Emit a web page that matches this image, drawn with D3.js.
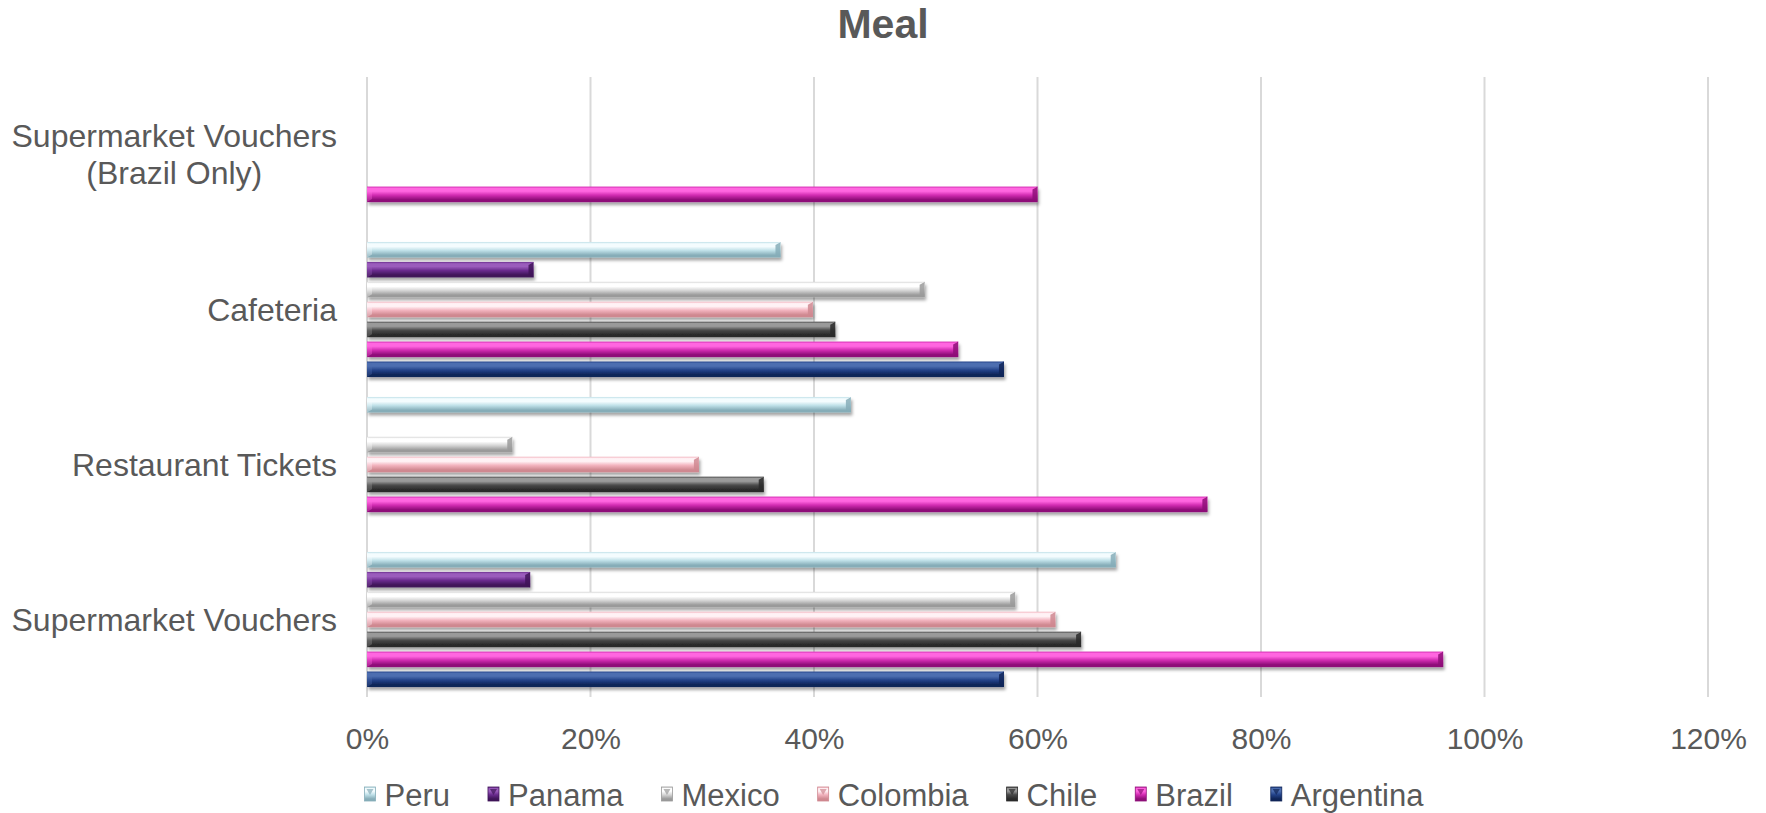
<!DOCTYPE html>
<html>
<head>
<meta charset="utf-8">
<script src="https://cdn.jsdelivr.net/npm/d3@7"></script>
<style>
  html, body { margin: 0; padding: 0; background: #ffffff; }
  svg { display: block; font-family: "Liberation Sans", Arial, sans-serif; }
</style>
</head>
<body>
<svg id="chart" width="1766" height="813"></svg>
<script>
// Meal benefits by country: share of companies offering each benefit
const categories = ["Supermarket Vouchers", "Restaurant Tickets", "Cafeteria", "Supermarket Vouchers (Brazil Only)"];
const categoryLines = [["Supermarket Vouchers"], ["Restaurant Tickets"], ["Cafeteria"], ["Supermarket Vouchers", "(Brazil Only)"]];

const seriesNames = ["Peru", "Panama", "Mexico", "Colombia", "Chile", "Brazil", "Argentina"];

// values follow the order of `categories`; null = not offered / not surveyed
const peru      = [0.670, 0.433, 0.370, null];
const panama    = [0.146, null,  0.149, null];
const mexico    = [0.580, 0.130, 0.499, null];
const colombia  = [0.616, 0.297, 0.399, null];
const chile     = [0.639, 0.355, 0.419, null];
const brazil    = [0.963, 0.752, 0.529, 0.600];
const argentina = [0.570, null,  0.570, null];

const tickValues = [0, 0.2, 0.4, 0.6, 0.8, 1.0, 1.2];

const seriesValues = [peru, panama, mexico, colombia, chile, brazil, argentina];

// bevelled-bar shading: [highlight, base, shade]
const palette = {
  Peru:      ["#f4fcfe", "#bfe0e8", "#86adb8"],
  Panama:    ["#9a5cbc", "#6a2c8e", "#3f1458"],
  Mexico:    ["#ffffff", "#d6d6d6", "#9a9a9a"],
  Colombia:  ["#fff2f5", "#f3b4bf", "#cf8890"],
  Chile:     ["#9a9a9a", "#4a4a4a", "#2a2a2a"],
  Brazil:    ["#ff66e0", "#d22cb2", "#8e0f78"],
  Argentina: ["#4d6eb0", "#23438a", "#0f2558"]
};

const textColor = "#595959";
const gridColor = "#d9d9d9";

const svg = d3.select("#chart");
const W = 1766, H = 813;
const plot = { left: 367, right: 1708, top: 77, bottom: 697 };

const defs = svg.append("defs");
const shadow = defs.append("filter").attr("id", "barShadow")
  .attr("x", "-5%").attr("y", "-40%").attr("width", "110%").attr("height", "200%");
shadow.append("feDropShadow").attr("dx", 1.5).attr("dy", 3).attr("stdDeviation", 1.8)
  .attr("flood-color", "#000").attr("flood-opacity", 0.35);

seriesNames.forEach((name, i) => {
  const [hi, base, lo] = palette[name];
  const g = defs.append("linearGradient").attr("id", "grad" + i)
    .attr("x1", 0).attr("y1", 0).attr("x2", 0).attr("y2", 1);
  g.append("stop").attr("offset", "0%").attr("stop-color", base);
  g.append("stop").attr("offset", "12%").attr("stop-color", hi);
  g.append("stop").attr("offset", "30%").attr("stop-color", hi);
  g.append("stop").attr("offset", "55%").attr("stop-color", base);
  g.append("stop").attr("offset", "85%").attr("stop-color", lo);
  g.append("stop").attr("offset", "100%").attr("stop-color", lo);
});

const x = d3.scaleLinear().domain([0, 1.2]).range([plot.left, plot.right]);
const y = d3.scaleBand().domain(categories.slice().reverse()).range([plot.top, plot.bottom]).padding(0);
const yInner = d3.scaleBand().domain(seriesNames).range([0, y.bandwidth()])
  .paddingInner(0.22).paddingOuter(0.5);

// title
svg.append("text")
  .attr("x", W / 2).attr("y", 38)
  .attr("text-anchor", "middle")
  .attr("font-size", 41).attr("font-weight", "bold")
  .attr("fill", textColor)
  .text("Meal");

// vertical gridlines
svg.append("g").selectAll("line").data(tickValues).join("line")
  .attr("x1", d => x(d)).attr("x2", d => x(d))
  .attr("y1", plot.top).attr("y2", plot.bottom)
  .attr("stroke", gridColor).attr("stroke-width", 2);

// x axis tick labels
const xAxis = d3.axisBottom(x).tickValues(tickValues).tickFormat(d3.format(".0%")).tickSize(0).tickPadding(0);
const xg = svg.append("g").attr("transform", `translate(0,${plot.bottom + 42})`).call(xAxis);
xg.select(".domain").remove();
xg.selectAll("text").attr("font-size", 30).attr("fill", textColor)
  .attr("font-family", "Liberation Sans, Arial, sans-serif").attr("dy", "0.32em");

// category labels
const catG = svg.append("g");
categories.forEach((c, ci) => {
  const lines = categoryLines[ci];
  const cy = y(c) + y.bandwidth() / 2;
  const lh = 37;
  const t = catG.append("text")
    .attr("text-anchor", "end").attr("font-size", 32).attr("fill", textColor);
  lines.forEach((ln, li) => {
    t.append("tspan")
      .attr("x", 337)
      .attr("y", cy + (li - (lines.length - 1) / 2) * lh)
      .attr("dy", "0.35em")
      .text(ln);
  });
  if (lines.length > 1) {
    // centre the wrapped lines on each other
    t.attr("text-anchor", "middle");
    const widest = d3.max(t.selectAll("tspan").nodes(), n => n.getComputedTextLength());
    t.selectAll("tspan").attr("x", 337 - widest / 2);
  }
});

// bars
const barsG = svg.append("g");
seriesNames.forEach((name, si) => {
  const vals = seriesValues[si];
  categories.forEach((c, ci) => {
    const v = vals[ci];
    if (v == null) return;
    const by = y(c) + yInner(name);
    const bh = yInner.bandwidth();
    const x0 = x(0), x1 = x(v);
    const g = barsG.append("g");
    g.append("rect")
      .attr("x", x0).attr("y", by).attr("width", x1 - x0).attr("height", bh)
      .attr("fill", `url(#grad${si})`)
      .attr("filter", "url(#barShadow)");
    const b = 5;
    const [hi, base, lo] = palette[name];
    // right end bevel facets
    g.append("polygon")
      .attr("points", [[x1 - b, by + b * 0.6], [x1, by], [x1, by + bh], [x1 - b, by + bh - b * 0.6]].join(" "))
      .attr("fill", lo).attr("opacity", 0.85);
    g.append("polygon")
      .attr("points", [[x1 - b, by + b * 0.6], [x1, by], [x1 - 1, by]].join(" "))
      .attr("fill", hi).attr("opacity", 0.7);
    // left end bevel facet
    g.append("polygon")
      .attr("points", [[x0, by], [x0 + b, by + b * 0.6], [x0 + b, by + bh - b * 0.6], [x0, by + bh]].join(" "))
      .attr("fill", hi).attr("opacity", 0.35);
  });
});

// legend
const legend = svg.append("g").attr("font-size", 31).attr("fill", textColor);
let lx = 0;
const gap = 38;
seriesNames.forEach((name, si) => {
  const it = legend.append("g");
  it.append("rect").attr("x", 0).attr("y", -19).attr("width", 11).attr("height", 14)
    .attr("fill", `url(#grad${si})`).attr("stroke", palette[name][2]).attr("stroke-width", 0.8);
  it.append("polygon").attr("points", "2,-17 9,-17 5.5,-11").attr("fill", palette[name][2]).attr("opacity", 0.7);
  const t = it.append("text").attr("x", 20).attr("y", 0).text(name);
  const w = 20 + t.node().getComputedTextLength();
  it.attr("transform", `translate(${lx},0)`);
  lx += w + gap;
});
const legendWidth = lx - gap;
legend.attr("transform", `translate(${894 - legendWidth / 2},806)`);
</script>
</body>
</html>
